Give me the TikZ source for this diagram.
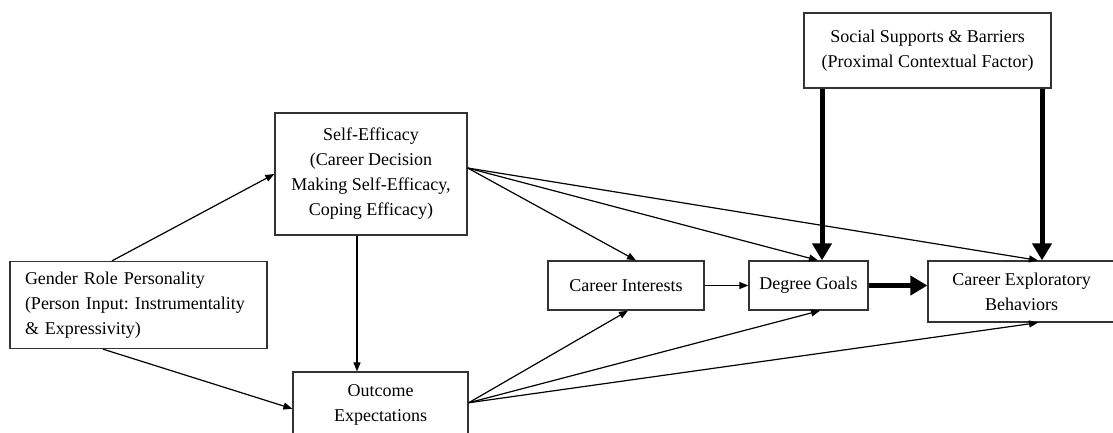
\documentclass[tikz,border=0pt]{standalone}
\usepackage{fontspec}
\setmainfont{Liberation Serif}
\usetikzlibrary{arrows.meta}
\frenchspacing
\begin{document}
\begin{tikzpicture}[x=1pt,y=-1pt,
  box/.style={draw=black!80, line width=1.3pt, fill=white, inner sep=0pt, align=center, font=\fontsize{18}{25}\selectfont},
  thinarrow/.style={-{Triangle[length=9pt,width=7pt]}, line width=1.2pt},
  thickarrow/.style={-{Triangle[length=17pt,width=19pt]}, line width=5pt}]
\clip (0,0) rectangle (1113,432);
\fill[white] (0,0) rectangle (1113,432);
\node[box, minimum width=247pt, minimum height=75pt] (soc) at (927.5,50.5) {Social Supports \& Barriers\\(Proximal Contextual Factor)};
\node[box, minimum width=192pt, minimum height=122pt] (se) at (371,174) {Self-Efficacy\\(Career Decision\\Making Self-Efficacy,\\Coping Efficacy)};
\node[box, align=left, text width=227pt, inner xsep=15pt, minimum height=87pt] (gen) at (138.5,305) {Gender Role Personality\\(Person Input: Instrumentality\\\& Expressivity)};
\node[box, minimum width=175pt, minimum height=65.5pt] (oe) at (380.5,404.75) {Outcome\\Expectations};
\node[box, minimum width=156pt, minimum height=49pt] (ci) at (626,285.5) {Career Interests};
\node[box, minimum width=119pt, minimum height=49pt] (dg) at (808.5,285.5) {Degree Goals};
\node[box, minimum width=187pt, minimum height=61pt] (ce) at (1021.5,291.5) {Career Exploratory\\Behaviors};
% thin arrows
\draw[thinarrow] ([xshift=-26.5pt]gen.north) -- (se.west);
\draw[thinarrow] ([xshift=-35.5pt]gen.south) -- ([yshift=-4pt]oe.west);
\draw[thinarrow] ([xshift=-14pt]se.south) -- ([xshift=-14pt]se.south |- oe.north);
\draw[thinarrow] ([yshift=6pt]se.east) -- ([xshift=10pt]ci.north);
\draw[thinarrow] ([yshift=6pt]se.east) -- ([xshift=9.5pt]dg.north);
\draw[thinarrow] ([yshift=6pt]se.east) -- ([xshift=16.5pt]ce.north);
\draw[thinarrow] ([yshift=2pt]oe.east) -- ([xshift=2pt]ci.south);
\draw[thinarrow] ([yshift=2pt]oe.east) -- ([xshift=11.5pt]dg.south);
\draw[thinarrow] ([yshift=2pt]oe.east) -- ([xshift=16.5pt]ce.south);
\draw[thinarrow] (ci.east) -- (dg.west);
% thick arrows
\draw[thickarrow] (dg.east) -- (dg.east -| ce.west);
\draw[thickarrow] ([xshift=-105.5pt]soc.south) -- ([xshift=-105.5pt]soc.south |- dg.north);
\draw[thickarrow] ([xshift=114.5pt]soc.south) -- ([xshift=114.5pt]soc.south |- ce.north);
\end{tikzpicture}
\end{document}
